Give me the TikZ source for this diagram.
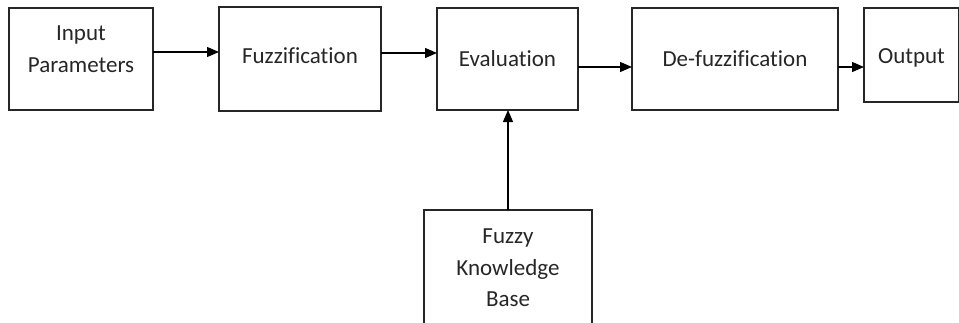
\documentclass[tikz,border=0pt]{standalone}
\usepackage{fontspec}
\setmainfont{Carlito}[Ligatures=CommonOff]
\usepackage{tikz}
\usetikzlibrary{arrows.meta,positioning}
\newcommand{\flow}[3]{\draw[->] ([yshift=#3]#1.east) -- ([yshift=#3]#1.east -| #2.west)}

\begin{document}
\begin{tikzpicture}[
      x=1pt,y=-1pt,
      >={Triangle[length=12pt,width=10pt]},
      line width=1.3pt,
      block/.style={rectangle,draw=black!85,inner sep=0pt,outer sep=0pt,align=center,
        text=black!85,font=\fontsize{23}{31.5}\selectfont},
      caption/.style={block,draw=none}]
      \useasboundingbox (0,0) rectangle (959,322);

      % Define nodes
      \node[block,minimum width=144pt,minimum height=102pt] (inp) at (81,59) {};
      \node[block,minimum width=162pt,minimum height=104pt,right=66pt of inp] (fuzz) {};
      \node[block,minimum width=141pt,minimum height=102pt,right=56pt of fuzz] (eval) {Evaluation};
      \node[block,minimum width=206pt,minimum height=102pt,right=54pt of eval] (defuzz) {De-fuzzification};
      \node[block,minimum width=95pt,minimum height=94pt,right=26pt of defuzz,yshift=4pt] (out) {};
      \node[block,minimum width=168pt,minimum height=130pt,below=100pt of eval,xshift=0.5pt] (kb) {};

      % Texts
      \node[caption] (inptext) at ([yshift=10pt]inp.center) {Input\\Parameters};
      \node[caption] (fuzztext) at ([yshift=3pt]fuzz.center) {Fuzzification};
      \node[caption] (outtext) at ([yshift=-3pt]out.center) {Output};
      \node[caption,anchor=north] (kbtext) at ([yshift=-19pt]kb.north) {Fuzzy\\Knowledge\\Base};

      % Draw paths
      \flow{inp}{fuzz}{7pt};
      \flow{fuzz}{eval}{6pt};
      \flow{eval}{defuzz}{-8pt};
      \flow{defuzz}{out}{-8pt};
      \draw[->] (kb.north) -- (kb.north |- eval.south);
\end{tikzpicture}
\end{document}
